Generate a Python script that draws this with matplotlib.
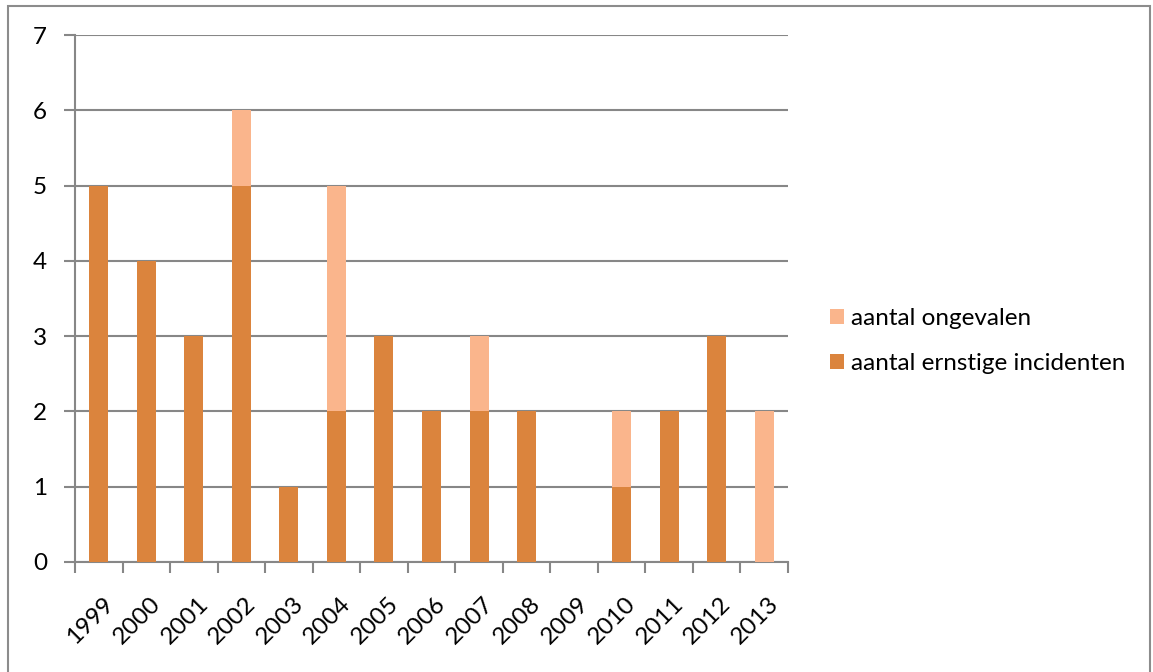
import matplotlib
matplotlib.use('Agg')
import matplotlib.pyplot as plt
from matplotlib.patches import Rectangle
from matplotlib.transforms import ScaledTranslation
import numpy as np

jaren = ['1999', '2000', '2001', '2002', '2003', '2004', '2005', '2006',
         '2007', '2008', '2009', '2010', '2011', '2012', '2013']
ernstige_incidenten = [5, 4, 3, 5, 1, 2, 3, 2, 2, 2, 0, 1, 2, 3, 0]
ongevalen = [0, 0, 0, 1, 0, 3, 0, 0, 1, 0, 0, 1, 0, 0, 2]

donker = '#DB843D'
licht = '#FAB58C'
grijs = '#878787'

plt.rcParams['font.family'] = ['Lato', 'DejaVu Sans']

fig = plt.figure(figsize=(11.53, 6.72), dpi=100)
W, H = 1153, 672
fig.patches.append(Rectangle((8 / W, -0.05), 1142 / W, 1.05 - 6 / H,
                             transform=fig.transFigure, fill=False,
                             edgecolor='#8c8c8c', linewidth=1.5))

ax = fig.add_axes([75 / W, 1 - 562 / H, 713 / W, 527 / H])
x = np.arange(len(jaren))
ax.bar(x, ernstige_incidenten, width=0.4, color=donker, zorder=3,
       label='aantal ernstige incidenten')
ax.bar(x, ongevalen, width=0.4, bottom=ernstige_incidenten, color=licht,
       zorder=3, label='aantal ongevalen')

ax.set_xlim(-0.5, len(jaren) - 0.5)
ax.set_ylim(0, 7)
ax.set_yticks(range(8))
ax.yaxis.grid(True, color=grijs, linewidth=1.5, zorder=0)
ax.set_axisbelow(True)

for s in ['top', 'right']:
    ax.spines[s].set_visible(False)
for s in ['left', 'bottom']:
    ax.spines[s].set_color(grijs)
    ax.spines[s].set_linewidth(1.5)

ax.set_xticks(np.arange(-0.5, len(jaren), 1.0))
ax.set_xticklabels([])
ax.set_xticks(x, minor=True)
ax.set_xticklabels(jaren, minor=True, rotation=45, ha='right', va='center',
                   rotation_mode='anchor', fontsize=17.5)
ax.tick_params(axis='x', which='major', length=8, width=1.5, color=grijs)
ax.tick_params(axis='x', which='minor', length=0, pad=28)
ax.tick_params(axis='y', length=8, width=1.5, color=grijs, labelsize=17.5,
               pad=12)
# labels iets naar rechts schuiven
verschuiving = ScaledTranslation(0.11, 0, fig.dpi_scale_trans)
for lbl in ax.get_xticklabels(minor=True):
    lbl.set_transform(lbl.get_transform() + verschuiving)

handles, labels = ax.get_legend_handles_labels()
fig.legend(handles[::-1], labels[::-1], loc='center left',
           bbox_to_anchor=(808 / W, 1 - 341 / H), frameon=False,
           fontsize=17.5, handlelength=0.6, handleheight=0.6,
           handletextpad=0.25, labelspacing=1.0)

fig.savefig('out.png', dpi=100)
